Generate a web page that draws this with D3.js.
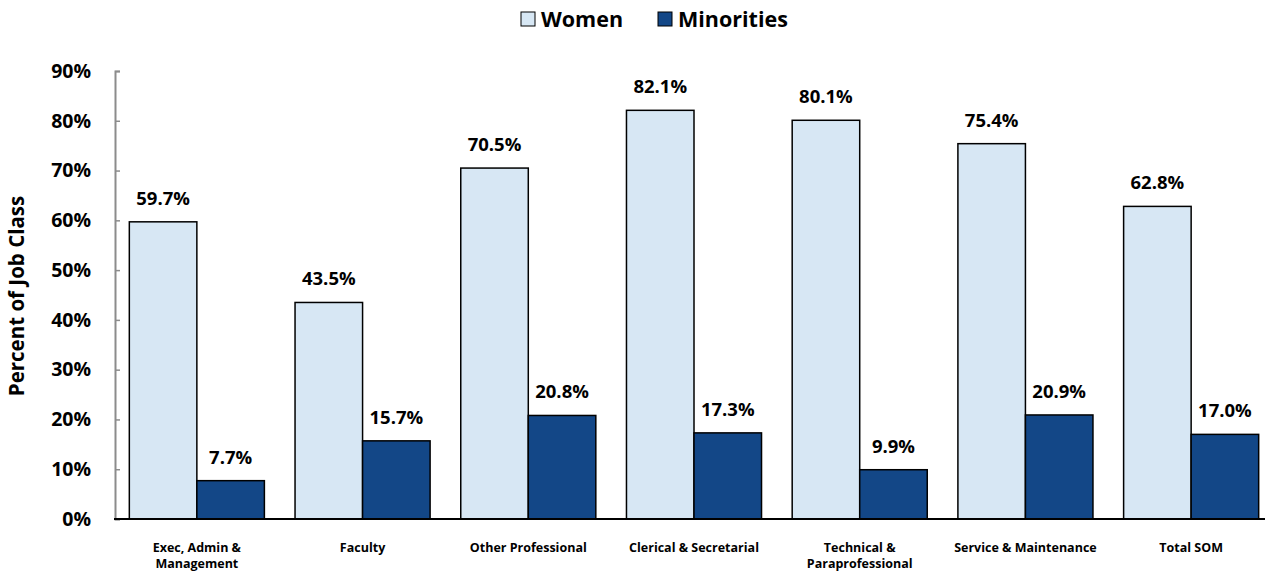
<!DOCTYPE html>
<html>
<head>
<meta charset="utf-8">
<script src="https://cdn.jsdelivr.net/npm/d3@7"></script>
<style>
  body { margin: 0; background: #fff; }
  svg { font-family: 'Open Sans', sans-serif; font-weight: bold; }
</style>
</head>
<body>
<div id="chart"></div>
<script>
// data
var categories = [
  ['Exec, Admin &', 'Management'],
  ['Faculty'],
  ['Other Professional'],
  ['Clerical & Secretarial'],
  ['Technical &', 'Paraprofessional'],
  ['Service & Maintenance'],
  ['Total SOM']
]
var women = [59.7, 43.5, 70.5, 82.1, 80.1, 75.4, 62.8]
var minorities = [7.7, 15.7, 20.8, 17.3, 9.9, 20.9, 17.0]
var seriesNames = ['Women', 'Minorities']
var yTicks = [0, 10, 20, 30, 40, 50, 60, 70, 80, 90]

var colors = { Women: '#d7e7f4', Minorities: '#134787' }

var width = 1265
var height = 573

var svg = d3.select('#chart')
  .append('svg')
  .attr('width', width)
  .attr('height', height)

var xScale = d3.scaleBand()
  .domain(d3.range(categories.length))
  .range([114, 1274])
  .paddingInner(0.185)
  .paddingOuter(0.0925)

var subScale = d3.scaleBand()
  .domain(seriesNames)
  .range([0, xScale.bandwidth()])

var yScale = d3.scaleLinear()
  .domain([0, 90])
  .range([519, 71])

// y axis
var yAxis = d3.axisLeft(yScale)
  .tickValues(yTicks)
  .tickSize(-5)
  .tickPadding(24)
  .tickFormat(function(d) { return d + '%' })

var yG = svg.append('g')
  .attr('transform', 'translate(115,0)')
  .call(yAxis)
yG.select('.domain').attr('stroke', '#8c8c8c').attr('stroke-width', 2)
yG.selectAll('.tick line').attr('stroke', '#8c8c8c').attr('stroke-width', 1.5)
yG.selectAll('.tick text')
  .attr('font-size', 19.5)
  .attr('font-weight', 'bold')
  .attr('font-family', 'Open Sans, sans-serif')
  .attr('fill', '#000')

svg.append('text')
  .attr('transform', 'translate(24,296) rotate(-90)')
  .attr('text-anchor', 'middle')
  .attr('font-size', 20.5)
  .text('Percent of Job Class')

// bars
var rows = categories.map(function(c, i) {
  return { i: i, values: [
    { key: 'Women', value: women[i] },
    { key: 'Minorities', value: minorities[i] }
  ] }
})

var groups = svg.selectAll('.group')
  .data(rows)
  .enter()
  .append('g')
  .attr('class', 'group')
  .attr('transform', function(d) { return 'translate(' + xScale(d.i) + ',0)' })

groups.selectAll('rect')
  .data(function(d) { return d.values })
  .enter()
  .append('rect')
  .attr('x', function(d) { return subScale(d.key) })
  .attr('y', function(d) { return yScale(d.value) })
  .attr('width', subScale.bandwidth())
  .attr('height', function(d) { return yScale(0) - yScale(d.value) })
  .attr('fill', function(d) { return colors[d.key] })
  .attr('stroke', '#000')
  .attr('stroke-width', 1.5)

groups.selectAll('.val')
  .data(function(d) { return d.values })
  .enter()
  .append('text')
  .attr('class', 'val')
  .attr('x', function(d) { return subScale(d.key) + subScale.bandwidth() / 2 })
  .attr('y', function(d) { return yScale(d.value) - 17 })
  .attr('text-anchor', 'middle')
  .attr('font-size', 18.5)
  .text(function(d) { return d.value.toFixed(1) + '%' })

// x axis line
svg.append('line')
  .attr('x1', 114)
  .attr('x2', 1274)
  .attr('y1', yScale(0))
  .attr('y2', yScale(0))
  .attr('stroke', '#000')
  .attr('stroke-width', 2)

// category labels
groups.append('text')
  .attr('text-anchor', 'middle')
  .attr('font-size', 12.5)
  .each(function(d) {
    var t = d3.select(this)
    categories[d.i].forEach(function(line, k) {
      t.append('tspan')
        .attr('x', xScale.bandwidth() / 2)
        .attr('y', 552 + k * 16)
        .text(line)
    })
  })

// legend
var legendX = [521, 658]
var legend = svg.selectAll('.legend')
  .data(seriesNames)
  .enter()
  .append('g')
  .attr('class', 'legend')
  .attr('transform', function(d, i) { return 'translate(' + legendX[i] + ',12)' })

legend.append('rect')
  .attr('width', 14)
  .attr('height', 14)
  .attr('fill', function(d) { return colors[d] })
  .attr('stroke', '#000')
  .attr('stroke-width', 1)

legend.append('text')
  .attr('x', 20)
  .attr('y', 15)
  .attr('font-size', 21.5)
  .text(function(d) { return d })
</script>
</body>
</html>
